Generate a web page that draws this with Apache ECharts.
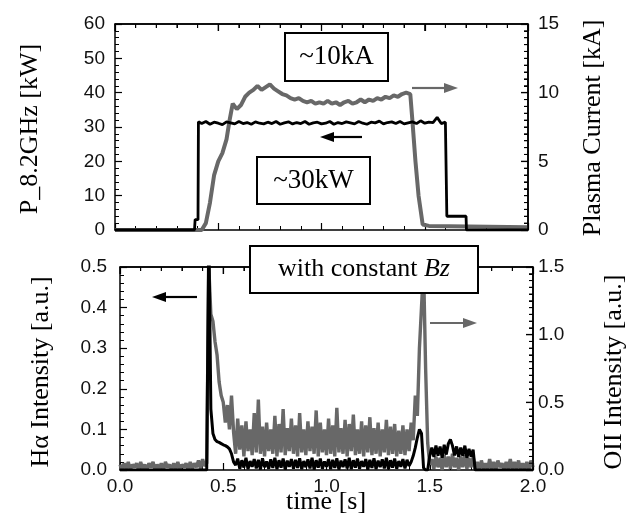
<!DOCTYPE html>
<html>
<head>
<meta charset="utf-8">
<script src="https://cdn.jsdelivr.net/npm/echarts@6/dist/echarts.min.js"></script>
<style>html,body{margin:0;padding:0;background:#fff}#c{width:635px;height:516px}</style>
</head>
<body>
<div id="c"></div>
<script>
// ---------- Top panel: RF power (kW, left axis) ----------
const pTime = [0, 0.385, 0.388, 0.402, 0.404,
  0.42,0.44,0.46,0.48,0.50,0.52,0.54,0.56,0.58,0.60,
  0.62,0.64,0.66,0.68,0.70,0.72,0.74,0.76,0.78,0.80,
  0.82,0.84,0.86,0.88,0.90,0.92,0.94,0.96,0.98,1.00,
  1.02,1.04,1.06,1.08,1.10,1.12,1.14,1.16,1.18,1.20,
  1.22,1.24,1.26,1.28,1.30,1.32,1.34,1.36,1.38,1.40,
  1.42,1.44,1.46,1.48,1.50,1.52,1.54,1.56,1.58,1.60,
  1.605, 1.607, 1.700, 1.702, 2.0];
const pPower = [0, 0, 3, 3, 31.5,
  31.0,31.6,30.8,31.4,31.1,30.7,31.5,31.2,30.9,31.6,
  31.0,31.3,30.8,31.5,31.1,30.9,31.4,31.0,31.6,30.8,
  31.2,31.5,30.9,31.3,31.0,31.6,30.8,31.2,31.4,30.9,
  31.1,31.6,30.8,31.3,31.0,31.5,31.2,30.9,31.6,31.1,
  30.8,31.4,31.2,31.7,30.9,31.3,31.5,31.0,31.6,30.9,
  31.2,31.5,31.0,31.8,31.1,31.4,31.3,32.8,31.0,31.4,
  31, 4, 4, 0, 0];
// ---------- Top panel: plasma current (kA, right axis) ----------
const ipTime = [0,0.42,0.44,0.46,0.48,0.50,0.52,0.54,0.555,0.57,
  0.59,0.61,0.63,0.65,0.67,0.69,0.71,0.73,0.75,0.77,
  0.79,0.81,0.83,0.85,0.87,0.89,0.91,0.93,0.95,0.97,
  0.99,1.01,1.03,1.05,1.07,1.09,1.11,1.13,1.15,1.17,
  1.19,1.21,1.23,1.25,1.27,1.29,1.31,1.33,1.35,1.37,
  1.39,1.41,1.43,1.44,1.455,1.47,1.49,1.52,2.0];
const ipCurrent = [0,0,0.5,2.0,4.0,5.0,5.6,6.6,8.0,9.2,
  8.8,9.1,9.7,10.0,10.2,10.5,10.2,10.4,10.6,10.3,
  10.1,9.9,9.8,9.6,9.5,9.6,9.4,9.3,9.4,9.2,
  9.3,9.2,9.4,9.2,9.3,9.1,9.3,9.4,9.2,9.3,
  9.5,9.3,9.5,9.4,9.6,9.5,9.7,9.6,9.8,9.7,
  9.9,10.0,9.9,8.0,5.0,2.5,0.4,0.3,0.2];
// ---------- Bottom panel: sampled every 0.01 s from 0.00 to 2.00 ----------
const sampleStart = 0.0, sampleStep = 0.01;
// OII intensity (a.u., right axis)
const oiiIntensity = [
  0.04,0.00,0.05,0.01,0.06,0.00,0.04,0.02,0.05,0.00,
  0.06,0.01,0.04,0.00,0.05,0.02,0.06,0.00,0.04,0.01,
  0.05,0.00,0.06,0.02,0.04,0.00,0.05,0.01,0.06,0.00,
  0.04,0.02,0.05,0.00,0.06,0.01,0.05,0.02,0.07,0.01,
  0.08,0.03,
  0.05,1.5,1.15,1.1,0.95,0.85,0.65,0.55,0.5,0.35,0.48,0.3,0.55,0.28,
  0.12,0.38,0.15,0.33,0.10,0.36,0.14,0.30,0.11,0.42,
  0.13,0.52,0.12,0.32,0.10,0.35,0.14,0.30,0.12,0.40,
  0.10,0.34,0.13,0.45,0.11,0.31,0.14,0.38,0.12,0.33,
  0.10,0.42,0.13,0.30,0.11,0.36,0.14,0.32,0.12,0.44,
  0.10,0.35,0.13,0.30,0.11,0.38,0.12,0.33,0.10,0.46,
  0.13,0.31,0.12,0.37,0.10,0.34,0.14,0.41,0.11,0.30,
  0.12,0.36,0.10,0.33,0.13,0.39,0.11,0.31,0.12,0.35,
  0.10,0.30,0.13,0.37,0.11,0.32,0.12,0.34,0.10,0.29,
  0.12,0.33,0.11,0.30,0.14,
  0.35,0.22,0.55,0.40,0.90,1.20,1.50,0.75,0.20,0.04,
  0.08,0.01,0.10,0.02,0.09,0.00,0.11,0.02,0.10,0.01,0.12,
  0.02,0.09,0.00,0.10,0.02,0.11,0.01,0.09,0.02,0.10,0.01,
  0.06,0.00,0.07,0.01,0.05,0.00,0.08,0.01,0.06,0.00,
  0.07,0.02,0.05,0.00,0.06,0.01,0.08,0.00,0.06,0.01,
  0.07,0.00,0.05,0.01,0.06,0.00,0.07,0.02];
// H-alpha intensity (a.u., left axis)
const haIntensity = [
  0,0,0,0,0,0,0,0,0,0, 0,0,0,0,0,0,0,0,0,0,
  0,0,0,0,0,0,0,0,0,0, 0,0,0,0,0,0,0,0,0,0, 0,0,
  0,0.6,0.15,0.09,0.075,0.07,0.068,0.065,0.062,0.06,0.057,0.052,0.04,0.02,
  0.012,0.028,0.003,0.024,0.006,0.03,0.002,0.022,0.008,0.027,
  0.004,0.025,0.001,0.029,0.007,0.021,0.003,0.026,0.005,0.03,
  0.002,0.024,0.006,0.028,0.001,0.023,0.008,0.027,0.003,0.025,
  0.005,0.029,0.002,0.022,0.007,0.026,0.004,0.03,0.001,0.024,
  0.006,0.028,0.003,0.021,0.008,0.027,0.002,0.025,0.005,0.029,
  0.001,0.023,0.007,0.026,0.004,0.03,0.002,0.024,0.006,0.028,
  0.003,0.022,0.008,0.027,0.001,0.025,0.005,0.029,0.002,0.023,
  0.007,0.026,0.004,0.03,0.002,0.024,0.006,0.028,0.003,0.022,
  0.008,0.027,0.004,0.025,0.01,
  0.02,0.035,0.055,0.08,0.1,0.09,0.005,0.0,0.0,0.035,
  0.055,0.032,0.06,0.035,0.058,0.03,0.062,0.038,0.065,0.075,0.06,
  0.036,0.058,0.032,0.055,0.035,0.06,0.03,0.052,0.033,0.05,0.0,
  0,0,0,0,0,0,0,0,0,0, 0,0,0,0,0,0,0,0,0,0, 0,0,0,0,0,0,0,0];
// ---------- Tick/axis settings ----------
const timeTicks = {min: 0, max: 2, interval: 0.5};
const powerTicks = {min: 0, max: 60, interval: 10};
const currentTicks = {min: 0, max: 15, interval: 5};
const haTicks = {min: 0, max: 0.5, interval: 0.1};
const oiiTicks = {min: 0, max: 1.5, interval: 0.5};

const pair = (xs, ys) => xs.map((x, i) => [x, ys[i]]);
const sampled = ys => ys.map((y, i) => [+(sampleStart + i * sampleStep).toFixed(2), y]);

// ---------- Layout ----------
const G0 = {left: 115, top: 24, width: 413, height: 206};
const G1 = {left: 120, top: 267, width: 413, height: 203};

const GRAY = '#686868';
const SERIF = '"Liberation Serif","Times New Roman",serif';
const SANS = '"Liberation Sans",Arial,sans-serif';
function axLine() { return {show: true, onZero: false, lineStyle: {color: '#000', width: 1.5}}; }
function tick() { return {show: true, inside: true, length: 7, lineStyle: {color: '#000', width: 1.2}}; }
function minor(n) { return {show: true, splitNumber: n, length: 4, lineStyle: {color: '#000', width: 1}}; }

function xAx(grid, pos, labels) {
  return Object.assign({type: 'value', gridIndex: grid, position: pos, show: true,
    axisLine: axLine(), axisTick: tick(), minorTick: minor(5), splitLine: {show: false},
    axisLabel: labels ? {show: true, margin: 7, formatter: v => v.toFixed(1), fontFamily: SANS, fontSize: 19, color: '#111'} : {show: false}
  }, timeTicks);
}
function yAx(grid, pos, ticks, minorN, digits, margin) {
  return Object.assign({type: 'value', gridIndex: grid, position: pos, show: true,
    axisLine: axLine(), axisTick: tick(), minorTick: minor(minorN), splitLine: {show: false},
    axisLabel: {show: true, margin: margin, formatter: v => v.toFixed(digits), fontFamily: SANS, fontSize: 19, color: '#111'}
  }, ticks);
}

function seg(x1, y1, x2, y2, w) {
  return {type: 'line', z: 120, shape: {x1: x1, y1: y1, x2: x2, y2: y2}, style: {stroke: '#000', lineWidth: w}};
}
// top and right frame edges with inward ticks (geometry from the grid layout)
function frame(g, nx, majX, ny, majY) {
  const els = [];
  const r = g.left + g.width, b = g.top + g.height;
  els.push(seg(g.left, g.top, r, g.top, 1.6));
  els.push(seg(r, g.top, r, b, 1.6));
  for (let i = 0; i <= nx; i++) {
    const x = g.left + i * g.width / nx;
    els.push(seg(x, g.top, x, g.top + (i % majX === 0 ? 7 : 4), 1.1));
  }
  for (let i = 0; i <= ny; i++) {
    const y = b - i * g.height / ny;
    els.push(seg(r - (i % majY === 0 ? 7 : 4), y, r, y, 1.1));
  }
  return els;
}
function arrow(x1, x2, y, color) {
  const dir = x2 > x1 ? 1 : -1;
  const head = 14, half = 5;
  return [
    {type: 'line', z: 100, shape: {x1: x1, y1: y, x2: x2 - dir * head, y2: y}, style: {stroke: color, lineWidth: 2.2}},
    {type: 'polygon', z: 100, shape: {points: [[x2, y], [x2 - dir * head, y - half], [x2 - dir * head, y + half]]}, style: {fill: color}}
  ];
}
function box(x, y, w, h, text, size) {
  return [
    {type: 'rect', z: 130, shape: {x: x, y: y, width: w, height: h}, style: {fill: '#fff', stroke: '#000', lineWidth: 2}},
    {type: 'text', z: 131, x: x + w / 2, y: y + h / 2, style: {text: text, fontFamily: SERIF, fontSize: size, fill: '#000',
      align: 'center', verticalAlign: 'middle', rich: {i: {fontFamily: SERIF, fontSize: size, fontStyle: 'italic', fill: '#000'}}}}
  ];
}
function vtitle(x, y, text) {
  return {type: 'text', z: 100, x: x, y: y, rotation: Math.PI / 2,
    style: {text: text, fontFamily: SERIF, fontSize: 26, fill: '#000', align: 'center', verticalAlign: 'middle'}};
}

const chart = echarts.init(document.getElementById('c'));
chart.setOption({
  animation: false,
  grid: [
    Object.assign({}, G0),
    Object.assign({}, G1)
  ],
  xAxis: [xAx(0, 'bottom', false), xAx(0, 'top', false), xAx(1, 'bottom', true), xAx(1, 'top', false)],
  yAxis: [
    yAx(0, 'left', powerTicks, 5, 0, 10),
    yAx(0, 'right', currentTicks, 10, 0, 10),
    yAx(1, 'left', haTicks, 5, 1, 13),
    yAx(1, 'right', oiiTicks, 10, 1, 5)
  ],
  series: [
    {type: 'line', xAxisIndex: 0, yAxisIndex: 1, data: pair(ipTime, ipCurrent), showSymbol: false,
      lineStyle: {color: GRAY, width: 4}},
    {type: 'line', xAxisIndex: 0, yAxisIndex: 0, data: pair(pTime, pPower), showSymbol: false,
      lineStyle: {color: '#000', width: 2.8}},
    {type: 'line', xAxisIndex: 2, yAxisIndex: 3, data: sampled(oiiIntensity), showSymbol: false,
      lineStyle: {color: GRAY, width: 3.4}},
    {type: 'line', xAxisIndex: 2, yAxisIndex: 2, data: sampled(haIntensity), showSymbol: false,
      lineStyle: {color: '#000', width: 3}}
  ],
  graphic: {elements: [].concat(
    frame(G0, 20, 5, 30, 10),
    frame(G1, 20, 5, 30, 10),
    box(285, 33, 103, 48, '~10kA', 27),
    box(257, 157, 113, 47, '~30kW', 27),
    box(250, 246, 228, 47, 'with constant {i|Bz}', 26),
    arrow(412, 458, 88, GRAY),
    arrow(362, 320, 137, '#000'),
    arrow(197, 152, 297, '#000'),
    arrow(430, 477, 323, GRAY),
    [
      vtitle(30, 129, 'P_8.2GHz [kW]'),
      vtitle(593, 128, 'Plasma Current [kA]'),
      vtitle(41, 372, 'H\u03b1 Intensity [a.u.]'),
      vtitle(614, 372, 'OII Intensity [a.u.]'),
      {type: 'text', z: 100, x: 326, y: 502, style: {text: 'time [s]', fontFamily: SERIF, fontSize: 26, fill: '#000', align: 'center', verticalAlign: 'middle'}}
    ]
  )}
});
</script>
</body>
</html>
